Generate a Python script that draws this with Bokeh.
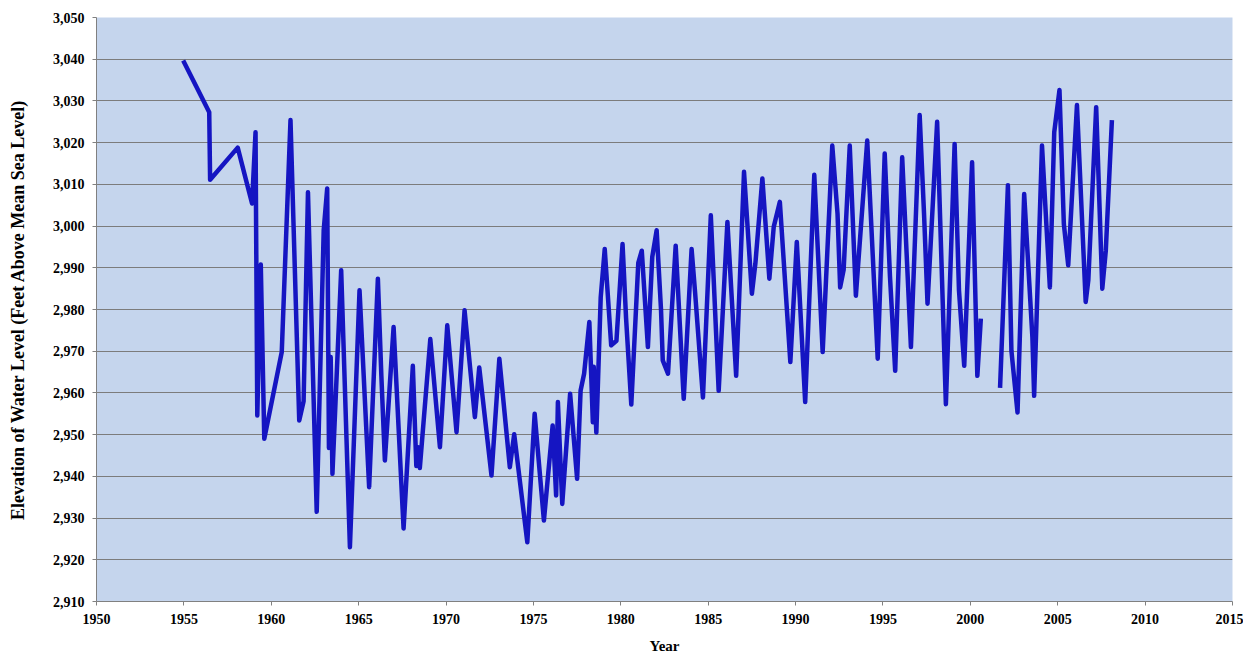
from bokeh.plotting import figure
from bokeh.models import NumeralTickFormatter, FixedTicker, Range1d
from bokeh.embed import file_html
from bokeh.resources import INLINE

nan = float("nan")

years = [
    1954.96, 1956.45, 1956.5, 1958.08, 1958.9, 1959.1, 1959.2, 1959.4, 1959.6, 1960.6,
    1961.1, 1961.6, 1961.85, 1962.1, 1962.6, 1963.0, 1963.2, 1963.3, 1963.4, 1963.5,
    1964.0, 1964.5, 1965.05, 1965.6, 1966.1, 1966.3, 1966.5, 1967.0, 1967.57, 1968.1,
    1968.3, 1968.4, 1968.5, 1969.1, 1969.65, 1970.07, 1970.6, 1971.06, 1971.65, 1971.9,
    1972.6, 1973.05, 1973.65, 1973.9, 1974.65, 1975.07, 1975.6, 1976.1, 1976.3, 1976.4,
    1976.65, 1977.1, 1977.5, 1977.7, 1977.9, 1978.2, 1978.4, 1978.45, 1978.6, 1978.85,
    1979.08, 1979.45, 1979.75, 1980.1, 1980.3, 1980.6, 1981.0, 1981.2, 1981.55, 1981.8,
    1982.05, 1982.3, 1982.4, 1982.7, 1983.14, 1983.6, 1984.05, 1984.25, 1984.7, 1985.15,
    1985.6, 1986.1, 1986.6, 1987.05, 1987.5, 1987.7, 1988.1, 1988.5, 1988.75, 1989.1,
    1989.7, 1990.07, 1990.55, 1991.07, 1991.55, 1992.1, 1992.4, 1992.55, 1992.75, 1993.1,
    1993.45, 1994.1, 1994.7, 1995.1, 1995.4, 1995.7, 1996.1, 1996.6, 1997.1, 1997.35,
    1997.55, 1998.1, 1998.6, 1999.1, 1999.35, 1999.65, 2000.1, 2000.4, 2000.6, nan,
    2001.7, 2002.15, 2002.35, 2002.7, 2003.08, 2003.55, 2003.65, 2004.1, 2004.55, 2004.8,
    2005.1, 2005.35, 2005.6, 2006.1, 2006.6, 2006.75, 2007.2, 2007.55, 2007.75, 2008.1,
]

elevation = [
    3039.7, 3027.3, 3011.1, 3018.8, 3005.4, 3022.5, 2954.6, 2990.8, 2949.0, 2969.8,
    3025.4, 2953.4, 2958.0, 3008.1, 2931.5, 2999.0, 3009.0, 2946.8, 2968.6, 2940.6,
    2989.4, 2923.0, 2984.6, 2937.4, 2987.4, 2964.0, 2943.8, 2975.8, 2927.5, 2966.5,
    2942.5, 2947.0, 2942.0, 2972.9, 2947.0, 2976.2, 2950.6, 2979.8, 2954.2, 2966.1,
    2940.2, 2968.2, 2942.2, 2950.1, 2924.2, 2955.0, 2929.4, 2952.2, 2935.4, 2957.8,
    2933.4, 2959.8, 2939.4, 2960.6, 2964.6, 2977.0, 2953.0, 2966.3, 2950.5, 2982.9,
    2994.5, 2971.4, 2972.5, 2995.7, 2978.0, 2957.2, 2991.2, 2994.1, 2971.0, 2992.6,
    2999.0, 2980.0, 2967.8, 2964.6, 2995.3, 2958.6, 2994.5, 2984.1, 2958.9, 3002.6,
    2960.5, 3001.0, 2964.1, 3013.0, 2983.8, 2991.0, 3011.4, 2987.4, 2999.8, 3005.8,
    2967.4, 2996.2, 2957.8, 3012.3, 2969.8, 3019.3, 3003.0, 2985.3, 2989.5, 3019.3,
    2983.3, 3020.5, 2968.2, 3017.4, 2988.0, 2965.3, 3016.5, 2971.0, 3026.6, 3003.0,
    2981.4, 3025.0, 2957.3, 3019.7, 2984.6, 2966.5, 3015.3, 2964.1, 2977.8, nan,
    2961.2, 3009.8, 2970.1, 2955.3, 3007.7, 2973.4, 2959.3, 3019.3, 2985.3, 3022.5,
    3032.6, 3000.5, 2990.6, 3029.0, 2981.8, 2987.0, 3028.5, 2985.0, 2994.1, 3025.4,
]

x_ticks = list(range(1950, 2016, 5))
y_ticks = list(range(2910, 3051, 10))

FONT = "Liberation Serif"

p = figure(width=1243, height=658, output_backend="svg", toolbar_location=None,
           x_range=Range1d(1950, 2015), y_range=Range1d(2910, 3050),
           min_border_left=96, min_border_right=11, min_border_top=17, min_border_bottom=57)

p.background_fill_color = "#c5d5ed"
p.border_fill_color = "white"
p.outline_line_color = None

p.line(years, elevation, line_color="#1515c2", line_width=4.5, line_join="round")

p.xaxis.ticker = FixedTicker(ticks=x_ticks)
p.yaxis.ticker = FixedTicker(ticks=y_ticks)
p.yaxis.formatter = NumeralTickFormatter(format="0,0")

p.xgrid.grid_line_color = None
p.ygrid.grid_line_color = "#7c7c7c"
p.ygrid.grid_line_width = 1

for ax in (p.xaxis, p.yaxis):
    ax.axis_line_color = "#808080"
    ax.major_tick_line_color = "#808080"
    ax.major_tick_out = 4
    ax.major_tick_in = 0
    ax.minor_tick_line_color = None
    ax.major_label_text_font = FONT
    ax.major_label_text_font_style = "bold"
    ax.major_label_text_font_size = "14px"
    ax.major_label_text_color = "black"
    ax.axis_label_text_font = FONT
    ax.axis_label_text_font_style = "bold"
    ax.axis_label_text_color = "black"

p.xaxis.axis_label = "Year"
p.xaxis.axis_label_text_font_size = "15px"
p.xaxis.major_label_standoff = 8
p.xaxis.axis_label_standoff = 11

p.yaxis.axis_label = "Elevation of Water Level (Feet Above Mean Sea Level)"
p.yaxis.axis_label_text_font_size = "18px"
p.yaxis.major_label_standoff = 8
p.yaxis.axis_label_standoff = 22

open("out.html", "w").write(file_html(p, INLINE))
